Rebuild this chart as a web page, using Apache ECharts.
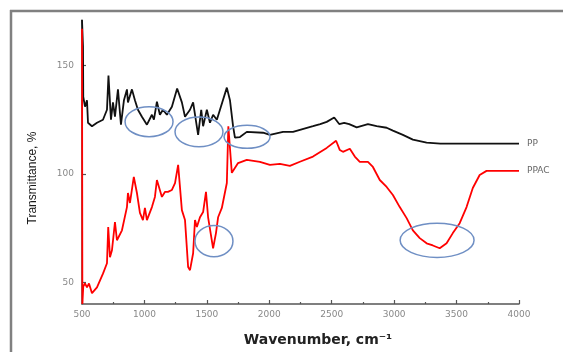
<!DOCTYPE html>
<html>
<head>
<meta charset="utf-8">
<script src="https://cdn.jsdelivr.net/npm/echarts@6/dist/echarts.min.js"></script>
<style>
html,body{margin:0;padding:0;background:#fff;}
#chart{width:563px;height:352px;}
</style>
</head>
<body>
<div id="chart"></div>
<script>
// ---- data ----
const ppWavenumber = [500,508,510,524,540,548,580,620,668,700,712,732,748,764,788,812,836,860,868,900,924,948,980,1020,1060,1076,1100,1124,1148,1180,1220,1262,1300,1325,1365,1390,1430,1455,1470,1500,1525,1550,1580,1605,1660,1685,1710,1725,1765,1820,1950,2005,2110,2190,2350,2408,2460,2520,2560,2600,2640,2700,2790,2860,2940,2990,3070,3150,3260,3370,3500,4000];
const ppTransmittance = [171,159,135.6,131,134,123.6,122,123.6,125,129.6,145.4,125,133,126.4,139,122.7,134,139,133,139,134,129.6,126.4,122.7,127.3,125,133.3,127.3,129.6,127.3,131,139.4,133,126.4,129.6,133,118,129.6,122,129.6,123.6,127.3,125,129.6,139.8,134,122,116.7,117,119.4,119,118,119.4,119.4,122,123,124,126,123,123.6,123,121.5,123,122,121.3,120,118,115.8,114.4,114,114,114];
const ppacWavenumber = [500,503,510,524,540,556,580,620,668,700,710,724,740,764,780,820,860,868,884,915,940,964,988,1004,1020,1060,1084,1100,1116,1140,1164,1188,1220,1245,1270,1300,1325,1350,1365,1390,1405,1420,1445,1470,1493,1510,1550,1573,1590,1620,1660,1672,1700,1750,1820,1925,2005,2085,2165,2245,2350,2460,2535,2565,2590,2645,2685,2725,2790,2830,2885,2940,2990,3045,3100,3150,3205,3260,3310,3365,3420,3470,3525,3580,3630,3685,3740,4000];
const ppacTransmittance = [167,40,48,49.5,47.7,49.5,45,47.7,54,58.8,75.5,61.6,64.8,77.8,69.4,74,84.7,91.2,86.6,98.6,91.2,82,78.7,84.3,78.7,84.7,89.4,97.2,97.2,89.4,91.7,91.7,92.6,95.8,104.2,83.3,78.7,57,55.6,63.4,78.7,75.5,80,82.4,91.7,80,65.7,72.7,80,84.3,95.8,122,100.5,105,106.5,105.6,104.2,104.6,103.7,105.6,108,112,115.3,111,110.2,111.6,108,105.6,105.6,103.2,97.2,94,90.3,84.7,79.6,74,70.4,68,67,65.7,68,72.7,77.3,84.7,93.5,99.5,101.4,101.4];
const seriesNames = ['PP', 'PPAC'];
const yTickValues = [50, 100, 150];
// highlighted regions in data space: [wavenumberFrom, wavenumberTo, transFrom, transTo]
const highlightRegions = [
  [845, 1229, 117.2, 131],
  [1245, 1629, 112.5, 126.3],
  [1638, 2006, 111.8, 122.4],
  [1405, 1709, 61.8, 76.2],
  [3048, 3640, 61.5, 77.3]
];

function zip(xs, ys) { return xs.map((x, i) => [x, ys[i]]); }

const chart = echarts.init(document.getElementById('chart'), null, {renderer: 'canvas'});
const FONT = 'DejaVu Sans';

const option = {
  animation: false,
  backgroundColor: '#fff',
  grid: {left: 82, right: 44, top: 20, bottom: 48},
  xAxis: {
    type: 'value', min: 500, max: 4000, interval: 500,
    axisLine: {show: true, lineStyle: {color: '#555', width: 1.5}},
    axisTick: {show: true, inside: true, length: 4, lineStyle: {color: '#555', width: 1.2}},
    minorTick: {show: true, splitNumber: 2, length: 2, lineStyle: {color: '#555', width: 1.2}},
    splitLine: {show: false},
    axisLabel: {color: '#888', fontSize: 9, fontFamily: FONT, margin: 6, formatter: v => String(v)}
  },
  yAxis: {
    type: 'value', min: 40, max: 171,
    axisLine: {show: true, lineStyle: {color: '#555', width: 1.5}},
    axisTick: {show: true, inside: true, length: 4, customValues: yTickValues, lineStyle: {color: '#555', width: 1.2}},
    splitLine: {show: false},
    axisLabel: {color: '#888', fontSize: 9, fontFamily: FONT, margin: 8, customValues: yTickValues, formatter: v => String(v)}
  },
  series: [
    {
      name: seriesNames[0], type: 'line', data: zip(ppWavenumber, ppTransmittance),
      showSymbol: false, lineStyle: {color: '#111', width: 1.8}, z: 2,
      endLabel: {show: true, formatter: '{a}', color: '#666', fontSize: 9, fontFamily: FONT, distance: 8}
    },
    {
      name: seriesNames[1], type: 'line', data: zip(ppacWavenumber, ppacTransmittance),
      showSymbol: false, lineStyle: {color: '#ff0000', width: 1.8}, z: 3,
      endLabel: {show: true, formatter: '{a}', color: '#666', fontSize: 9, fontFamily: FONT, distance: 8}
    }
  ],
  graphic: [
    {type: 'line', shape: {x1: 10, y1: 11, x2: 563, y2: 11}, style: {stroke: '#808080', lineWidth: 2.5}, silent: true},
    {type: 'line', shape: {x1: 11, y1: 10, x2: 11, y2: 352}, style: {stroke: '#808080', lineWidth: 2.5}, silent: true},
    {type: 'text', x: 318, y: 340, style: {text: 'Wavenumber, cm⁻¹', font: 'bold 14px "DejaVu Sans"', fill: '#222', align: 'center', verticalAlign: 'middle'}, silent: true},
    {type: 'text', x: 33, y: 178, rotation: Math.PI / 2, style: {text: 'Transmittance, %', font: '12px "Liberation Sans"', fill: '#1a1a1a', align: 'center', verticalAlign: 'middle'}, silent: true}
  ]
};
chart.setOption(option);

// annotation ellipses from data-space regions
const ellipses = highlightRegions.map(r => {
  const p1 = chart.convertToPixel({gridIndex: 0}, [r[0], r[2]]);
  const p2 = chart.convertToPixel({gridIndex: 0}, [r[1], r[3]]);
  return {
    type: 'ellipse', silent: true, z: 10,
    shape: {cx: (p1[0] + p2[0]) / 2, cy: (p1[1] + p2[1]) / 2, rx: Math.abs(p2[0] - p1[0]) / 2, ry: Math.abs(p2[1] - p1[1]) / 2},
    style: {fill: 'none', stroke: '#6f8fc4', lineWidth: 1.5}
  };
});
chart.setOption({graphic: option.graphic.concat(ellipses)});
</script>
</body>
</html>
